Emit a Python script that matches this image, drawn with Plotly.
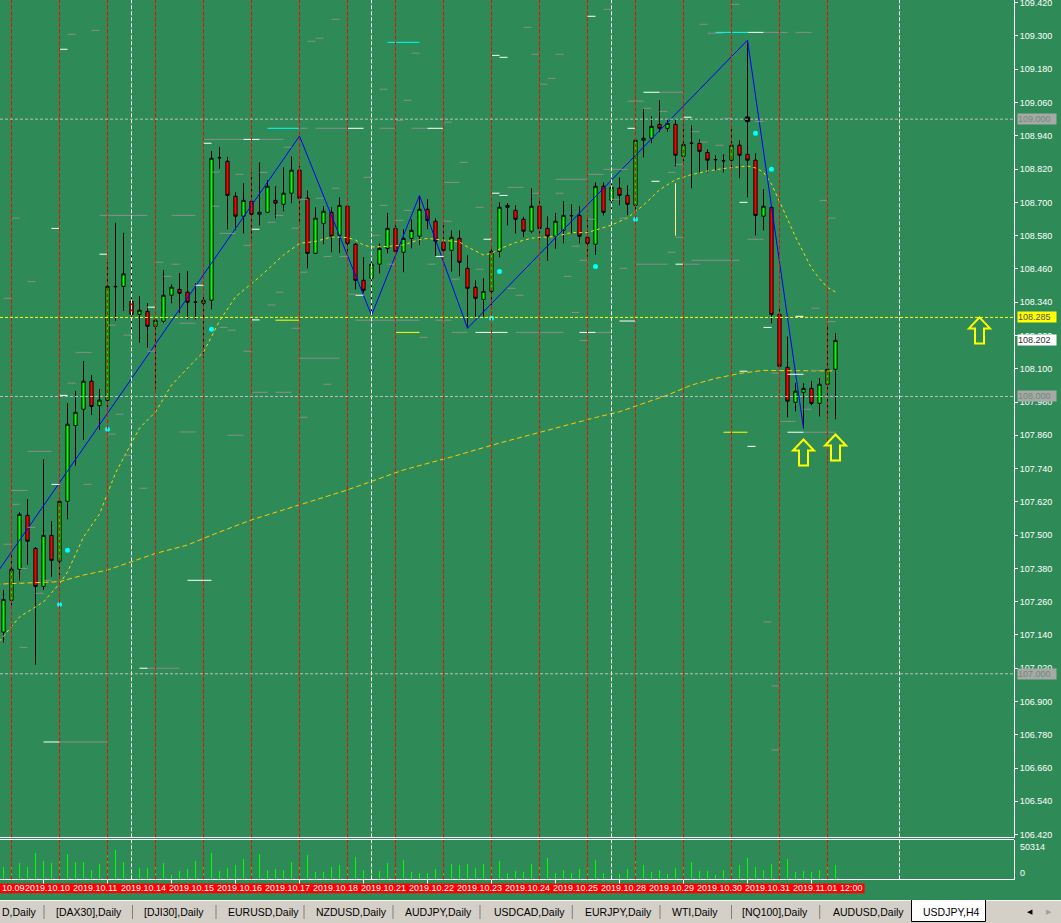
import plotly.graph_objects as go

W, H = 1061, 923
BG = "#2E8B57"
FONT = "Liberation Sans, Arial, sans-serif"

# ---------------- data: USDJPY H4 candles (bar index 0..104) ----------------
opens = [
    107.150, 107.265, 107.377, 107.571, 107.452, 107.315, 107.499, 107.406, 107.622, 107.895,
    107.954, 108.055, 107.967, 107.986, 108.397, 108.397, 108.343, 108.296, 108.307, 108.253,
    108.271, 108.365, 108.386, 108.376, 108.340, 108.336, 108.347, 108.861, 108.848, 108.722,
    108.650, 108.704, 108.657, 108.664, 108.707, 108.693, 108.733, 108.816, 108.715, 108.516,
    108.624, 108.664, 108.581, 108.686, 108.549, 108.419, 108.426, 108.477, 108.534, 108.606,
    108.520, 108.570, 108.578, 108.675, 108.632, 108.556, 108.527, 108.570, 108.462, 108.394,
    108.350, 108.379, 108.523, 108.682, 108.671, 108.639, 108.596, 108.686, 108.606, 108.578,
    108.599, 108.652, 108.653, 108.574, 108.549, 108.758, 108.707, 108.751, 108.725, 108.689,
    108.924, 108.931, 108.981, 108.967, 108.981, 108.866, 108.913, 108.913, 108.880, 108.854,
    108.850, 108.852, 108.906, 108.873, 108.852, 108.650, 108.682, 108.296, 108.105, 107.979,
    108.015, 108.029, 107.975, 108.044, 108.098]
highs = [
    107.302, 107.428, 107.582, 107.630, 107.457, 107.773, 107.550, 107.637, 107.976, 108.020,
    108.128, 108.077, 108.027, 108.484, 108.626, 108.590, 108.521, 108.362, 108.337, 108.283,
    108.456, 108.404, 108.445, 108.452, 108.409, 108.362, 108.885, 108.900, 108.864, 108.737,
    108.769, 108.808, 108.844, 108.780, 108.758, 108.826, 108.866, 108.831, 108.743, 108.682,
    108.686, 108.682, 108.718, 108.690, 108.553, 108.502, 108.503, 108.552, 108.661, 108.626,
    108.603, 108.639, 108.725, 108.711, 108.643, 108.624, 108.599, 108.599, 108.509, 108.420,
    108.426, 108.535, 108.700, 108.697, 108.689, 108.648, 108.751, 108.708, 108.650, 108.661,
    108.704, 108.693, 108.686, 108.643, 108.772, 108.772, 108.785, 108.790, 108.761, 108.931,
    109.037, 109.010, 109.068, 109.000, 109.001, 108.981, 108.978, 108.927, 108.891, 108.870,
    108.873, 108.967, 108.924, 109.285, 108.877, 108.747, 108.682, 108.318, 108.216, 108.048,
    108.048, 108.055, 108.066, 108.257, 108.228]
lows = [
    107.112, 107.248, 107.336, 107.393, 107.033, 107.303, 107.350, 107.356, 107.557, 107.750,
    107.843, 107.934, 107.879, 107.962, 108.273, 108.309, 108.234, 108.194, 108.176, 108.028,
    108.264, 108.336, 108.300, 108.278, 108.278, 108.139, 108.314, 108.821, 108.603, 108.600,
    108.588, 108.570, 108.617, 108.661, 108.643, 108.668, 108.697, 108.626, 108.462, 108.513,
    108.549, 108.520, 108.517, 108.522, 108.386, 108.374, 108.293, 108.444, 108.516, 108.517,
    108.448, 108.534, 108.546, 108.603, 108.504, 108.517, 108.450, 108.434, 108.246, 108.282,
    108.288, 108.330, 108.502, 108.617, 108.588, 108.574, 108.588, 108.552, 108.490, 108.533,
    108.552, 108.588, 108.552, 108.504, 108.511, 108.653, 108.675, 108.689, 108.653, 108.675,
    108.862, 108.913, 108.953, 108.955, 108.830, 108.848, 108.751, 108.808, 108.808, 108.816,
    108.808, 108.823, 108.787, 108.718, 108.581, 108.599, 108.264, 108.106, 107.925, 107.946,
    107.885, 107.968, 107.928, 107.921, 107.918]
closes = [
    107.268, 107.377, 107.575, 107.478, 107.315, 107.499, 107.409, 107.622, 107.900, 107.943,
    108.055, 107.964, 107.987, 108.397, 108.396, 108.442, 108.296, 108.311, 108.253, 108.275,
    108.365, 108.394, 108.372, 108.340, 108.340, 108.347, 108.859, 108.861, 108.725, 108.650,
    108.707, 108.657, 108.664, 108.758, 108.697, 108.733, 108.816, 108.715, 108.516, 108.643,
    108.668, 108.578, 108.689, 108.552, 108.419, 108.383, 108.477, 108.534, 108.606, 108.523,
    108.570, 108.599, 108.675, 108.635, 108.560, 108.527, 108.574, 108.484, 108.390, 108.354,
    108.379, 108.523, 108.682, 108.689, 108.639, 108.596, 108.686, 108.606, 108.578, 108.632,
    108.653, 108.652, 108.578, 108.552, 108.758, 108.664, 108.754, 108.725, 108.693, 108.924,
    108.931, 108.974, 108.967, 108.985, 108.870, 108.909, 108.913, 108.884, 108.852, 108.854,
    108.850, 108.906, 108.870, 108.852, 108.653, 108.686, 108.296, 108.109, 107.983, 108.019,
    108.029, 107.975, 108.044, 108.098, 108.202]
volumes = [
    16180, 17700, 20100, 16180, 32870, 22630, 20100, 22760, 31600, 21360,
    21360, 12390, 18840, 30340, 36790, 21360, 11120, 14920, 14920, 15170,
    20100, 5940, 11120, 13650, 22630, 15170, 32870, 11120, 14920, 17570,
    25160, 17700, 31600, 12390, 13650, 12390, 21360, 16430, 30340, 9860,
    9860, 16180, 17570, 16430, 27810, 12390, 14920, 11120, 20100, 13910,
    23890, 9860, 8600, 8600, 13650, 12640, 18840, 17570, 18840, 14920,
    18840, 17700, 22630, 8600, 11120, 9860, 18840, 15170, 26550, 8600,
    12390, 8600, 13650, 13910, 23890, 8600, 8600, 7210, 13650, 25280,
    17570, 9860, 12390, 7210, 14920, 15170, 21360, 11120, 11120, 5940,
    12390, 17700, 17570, 26550, 16180, 12390, 18840, 27810, 25160, 9860,
    11120, 9860, 12390, 20230, 17570]
VOL_MAX = 50314

# moving averages (bar index, value)
fast_ma_idx = [-1, 0, 2, 5, 7, 8, 10, 12, 14, 16, 17, 19, 21, 24, 25, 27, 29, 32, 35, 37, 39, 41, 43, 44,
               45, 46, 48, 50, 52, 53, 55, 57, 58, 59, 60, 61, 62, 64, 66, 69, 71, 73, 74, 76, 78, 80,
               82, 84, 86, 88, 90, 92, 93, 94, 95, 96, 97, 98, 99, 100, 101, 102, 103, 104]
fast_ma_val = [107.100, 107.136, 107.205, 107.259, 107.325, 107.367, 107.493, 107.576, 107.724, 107.832,
               107.886, 107.944, 108.041, 108.132, 108.160, 108.272, 108.359, 108.431, 108.510, 108.552,
               108.559, 108.575, 108.573, 108.564, 108.546, 108.539, 108.541, 108.546, 108.566, 108.570,
               108.564, 108.557, 108.539, 108.525, 108.510, 108.516, 108.532, 108.555, 108.571, 108.577,
               108.591, 108.591, 108.600, 108.618, 108.644, 108.690, 108.745, 108.782, 108.800, 108.813,
               108.822, 108.829, 108.831, 108.824, 108.809, 108.766, 108.705, 108.640, 108.575, 108.517,
               108.463, 108.424, 108.393, 108.377]
slow_ma_idx = [-1, 0, 7, 10, 13, 16, 19, 23, 26, 31, 37, 43, 50, 56, 62, 68, 74, 77, 80, 83, 86, 89,
               92, 95, 98, 101, 104]
slow_ma_val = [107.322, 107.324, 107.332, 107.356, 107.374, 107.404, 107.434, 107.464, 107.500, 107.555,
               107.609, 107.663, 107.735, 107.782, 107.832, 107.879, 107.924, 107.945, 107.975, 108.005,
               108.041, 108.065, 108.083, 108.094, 108.093, 108.092, 108.092]

# zigzag vertices
zz_idx = [-1, 37, 46, 52, 58, 93, 100]
zz_val = [107.356, 108.939, 108.293, 108.725, 108.246, 109.285, 107.885]

# signal dots
cyan_idx = [7, 8, 13, 26, 61, 62, 74, 79, 94, 96]
cyan_val = [107.250, 107.445, 107.882, 108.242, 108.282, 108.451, 108.469, 108.639, 108.949, 108.819]
black_dot = (93, 109.000)

# up arrows (tip position)
arrow_idx = [100, 104, 122]
arrow_val = [107.845, 107.863, 108.285]

# horizontal levels
gray_levels = [109.000, 108.000, 107.000]
yellow_level = 108.285

# short level segments (start bar, end bar, price)
gray_segments = [
    (8, 9, 109.306), (11, 12, 109.320), (41, 42, 109.360), (38, 39, 109.281), (39, 40, 109.292),
    (51, 52, 109.238), (47, 48, 109.108), (50, 51, 109.068), (49, 50, 108.996), (55, 56, 108.989),
    (37, 38, 108.967), (39, 43, 108.967), (47, 49, 108.967), (51, 53, 108.967), (75, 76, 109.396),
    (65, 66, 109.331), (66, 67, 109.234), (69, 70, 109.234), (68, 69, 109.147), (67, 68, 109.126),
    (87, 88, 109.342), (88, 90, 109.310), (91, 92, 109.414), (95, 98, 109.313), (99, 101, 109.313),
    (82, 85, 109.097), (78, 80, 109.065), (80, 81, 109.039), (82, 83, 109.028), (90, 91, 109.003),
    (94, 95, 108.992), (1, 2, 108.643), (3, 4, 108.414), (0, 1, 108.354), (12, 18, 108.653),
    (9, 11, 108.159), (8, 9, 108.048), (14, 15, 107.936), (22, 24, 107.872), (13, 14, 107.864),
    (18, 19, 108.163), (15, 16, 108.221), (13, 14, 108.257), (19, 20, 108.484), (20, 21, 108.433),
    (21, 22, 108.477), (21, 24, 108.653), (22, 24, 108.264), (25, 30, 108.927), (32, 35, 108.927),
    (26, 27, 108.809), (26, 27, 108.686), (29, 30, 108.801), (27, 29, 108.588), (30, 31, 108.545),
    (32, 33, 108.808), (33, 34, 108.628), (34, 35, 108.653), (35, 36, 108.899), (36, 37, 108.607),
    (37, 38, 108.711), (37, 38, 108.448), (39, 40, 108.715), (40, 41, 108.505), (41, 42, 108.751),
    (36, 37, 108.246), (30, 31, 108.163), (37, 42, 108.138), (31, 33, 108.015), (34, 36, 108.015),
    (40, 41, 108.044), (37, 38, 107.925), (33, 34, 108.330), (34, 35, 108.376), (28, 29, 108.239),
    (27, 28, 108.249), (45, 46, 108.790), (47, 48, 108.689), (50, 51, 108.671), (49, 50, 108.635),
    (55, 57, 108.772), (57, 58, 108.844), (55, 56, 108.632), (46, 47, 108.581), (42, 43, 108.505),
    (48, 49, 108.477), (53, 54, 108.477), (56, 57, 108.423), (43, 44, 108.369), (44, 52, 108.275),
    (54, 56, 108.275), (56, 58, 108.231), (52, 53, 108.213), (59, 60, 108.682), (63, 65, 108.754),
    (69, 73, 108.783), (66, 67, 108.733), (69, 70, 108.733), (73, 75, 108.801), (75, 78, 108.819),
    (73, 74, 108.639), (71, 72, 108.542), (72, 73, 108.491), (70, 71, 108.433), (63, 64, 108.390),
    (64, 65, 108.365), (71, 72, 108.303), (59, 60, 108.459), (64, 70, 108.231), (72, 73, 108.202),
    (74, 76, 108.231), (76, 77, 108.711), (83, 84, 108.808), (86, 87, 108.955), (87, 88, 108.917),
    (89, 90, 108.906), (84, 85, 108.837), (77, 78, 108.643), (77, 78, 108.462), (79, 83, 108.477),
    (85, 87, 108.477), (86, 92, 108.491), (83, 84, 108.520), (84, 85, 108.574), (93, 95, 108.567),
    (102, 103, 108.707), (103, 104, 108.643), (101, 102, 108.318), (103, 104, 108.270), (96, 97, 108.084),
    (101, 102, 108.094), (97, 99, 107.910), (100, 104, 107.871), (100, 101, 107.954), (18, 22, 107.020),
    (3, 6, 107.802), (10, 11, 107.683), (1, 3, 107.661), (1, 2, 107.611), (17, 18, 107.669),
    (0, 1, 107.467), (3, 4, 107.528), (2, 3, 107.380), (4, 5, 107.290), (5, 6, 107.337),
    (2, 3, 107.095), (28, 30, 107.860), (15, 16, 107.788), (7, 13, 106.754), (95, 96, 107.187),
    (96, 97, 106.956), (96, 97, 106.725)]
white_segments = [
    (7, 8, 109.252), (43, 45, 108.967), (53, 55, 108.967), (61, 62, 109.230), (73, 74, 109.371),
    (62, 63, 109.223), (93, 95, 109.313), (80, 82, 109.097), (85, 86, 109.007), (78, 79, 108.967),
    (6, 7, 108.606), (12, 13, 108.513), (7, 8, 108.004), (18, 19, 108.322), (24, 25, 108.401),
    (25, 26, 108.913), (30, 32, 108.927), (31, 32, 108.603), (31, 32, 108.276), (81, 82, 108.776),
    (84, 85, 108.477), (77, 79, 108.272), (92, 93, 108.700), (99, 100, 108.289), (95, 96, 108.249),
    (92, 93, 108.091), (98, 100, 108.080), (98, 100, 107.871), (93, 94, 107.820), (6, 7, 107.683),
    (23, 26, 107.337), (17, 18, 107.020), (5, 7, 106.754), (54, 55, 108.505), (44, 45, 108.365),
    (61, 62, 108.733), (62, 63, 108.725), (60, 61, 108.567), (59, 63, 108.231), (72, 74, 108.231)]
cyan_segments = [(48, 52, 109.277), (33, 37, 108.967), (89, 93, 109.313)]
yellow_segments = [(34, 37, 108.275), (90, 93, 107.871), (49, 52, 108.231)]
pale_vline = (84, 108.580, 108.769)

# price scale
price_ticks = [round(106.420 + 0.12 * k, 3) for k in range(26)]
boxed_prices = [(109.000, "gray"), (108.285, "yellow"), (closes[-1], "bid"), (108.000, "gray"), (107.000, "gray")]

# separators
day_sep_bars = [1, 7, 13, 19, 25, 31, 37, 43, 49, 55, 61, 67, 73, 79, 85, 91, 97, 103]
week_sep_bars = [16, 46, 76, 112]
vol_tick_bars = [5, 13, 21, 29, 37, 45, 53, 61, 69, 77, 85, 93, 101]

date_labels = ["10.09", "2019.10.10", "2019.10.11", "2019.10.14", "2019.10.15", "2019.10.16",
               "2019.10.17", "2019.10.18", "2019.10.21", "2019.10.22", "2019.10.23", "2019.10.24",
               "2019.10.25", "2019.10.28", "2019.10.29", "2019.10.30", "2019.10.31", "2019.11.01 12:00"]
date_label_bars = [-0.44, 2.4, 8.4, 14.4, 20.4, 26.4, 32.4, 38.4, 44.4, 50.4, 56.4, 62.4, 68.4, 74.4,
                   80.4, 86.4, 92.4, 98.4]

tab_names = ["D,Daily", "[DAX30],Daily", "[DJI30],Daily", "EURUSD,Daily", "NZDUSD,Daily", "AUDJPY,Daily",
             "USDCAD,Daily", "EURJPY,Daily", "WTI,Daily", "[NQ100],Daily", "AUDUSD,Daily", "USDJPY,H4"]

# ---------------- layout geometry (pixels) ----------------
X0_PX, BAR_PX = 3.5, 8.0
PLOT_R_PX = 1014
MAIN_BOT_PX = 837
VOL_TOP_PX, VOL_BOT_PX = 839.5, 879.3
PRICE_TOP = 109.4297
PX_PER_PRICE = 277.3
PRICE_BOT = PRICE_TOP - MAIN_BOT_PX / PX_PER_PRICE
XR = [-X0_PX / BAR_PX, (PLOT_R_PX - X0_PX) / BAR_PX]


def bar_paper(i):
    return max(0.0, (X0_PX + BAR_PX * i) / W)


def pxx(px):
    return px / W


def pxy(py):
    return 1 - py / H


fig = go.Figure()

fig.add_trace(go.Candlestick(
    x=list(range(len(opens))), open=opens, high=highs, low=lows, close=closes,
    increasing=dict(line=dict(color="#000000", width=1), fillcolor="#00FF00"),
    decreasing=dict(line=dict(color="#000000", width=1), fillcolor="#FF0000"),
    whiskerwidth=0, hoverinfo="skip", xaxis="x", yaxis="y"))

fig.add_trace(go.Bar(x=list(range(len(volumes))), y=volumes, width=1 / BAR_PX,
                     marker=dict(color="#00FF00", line=dict(width=0)),
                     xaxis="x2", yaxis="y2", hoverinfo="skip"))

fig.add_trace(go.Scatter(x=slow_ma_idx, y=slow_ma_val, mode="lines",
                         line=dict(color="#FFC800", width=1, dash="5px,3px"), hoverinfo="skip"))
fig.add_trace(go.Scatter(x=fast_ma_idx, y=fast_ma_val, mode="lines",
                         line=dict(color="#FFD700", width=1, dash="3px,3px"), hoverinfo="skip"))
fig.add_trace(go.Scatter(x=zz_idx, y=zz_val, mode="lines",
                         line=dict(color="#0000FF", width=1), hoverinfo="skip"))


def seg_xy(segs):
    xs, ys = [], []
    for a, b, p in segs:
        xs += [a, b, None]
        ys += [p, p, None]
    return xs, ys


for segs, col in [(gray_segments, "#8C8C8C"), (white_segments, "#FFFFFF"),
                  (cyan_segments, "#00FFFF"), (yellow_segments, "#FFFF00")]:
    sx, sy = seg_xy(segs)
    fig.add_trace(go.Scatter(x=sx, y=sy, mode="lines", line=dict(color=col, width=1), hoverinfo="skip"))

fig.add_trace(go.Scatter(x=[pale_vline[0], pale_vline[0]], y=[pale_vline[1], pale_vline[2]], mode="lines",
                         line=dict(color="#FFFF99", width=1), hoverinfo="skip"))

fig.add_trace(go.Scatter(x=cyan_idx, y=cyan_val, mode="markers",
                         marker=dict(color="#00FFFF", size=5, line=dict(width=0)), hoverinfo="skip"))
fig.add_trace(go.Scatter(x=[black_dot[0]], y=[black_dot[1]], mode="markers",
                         marker=dict(color="#000000", size=6, line=dict(width=0)), hoverinfo="skip"))

shapes = []
for b in day_sep_bars:
    shapes.append(dict(type="line", xref="x", yref="paper", x0=b, x1=b, y0=pxy(VOL_BOT_PX), y1=1,
                       line=dict(color="#FF0000", width=1, dash="4px,2px")))
for b in week_sep_bars:
    shapes.append(dict(type="line", xref="x", yref="paper", x0=b, x1=b, y0=pxy(VOL_BOT_PX), y1=1,
                       line=dict(color="#FFFFFF", width=1, dash="4px,2px")))
for lv in gray_levels:
    shapes.append(dict(type="line", xref="x domain", yref="y", x0=0, x1=1, y0=lv, y1=lv,
                       line=dict(color="#BEBEBE", width=1, dash="3px,2px")))
shapes.append(dict(type="line", xref="x domain", yref="y", x0=0, x1=1, y0=yellow_level, y1=yellow_level,
                   line=dict(color="#FFFF00", width=1, dash="3px,2px")))
shapes.append(dict(type="line", xref="x2 domain", yref="y2 domain", x0=0, x1=1, y0=1, y1=1,
                   line=dict(color="#FFFFFF", width=1)))

DX = 1 / BAR_PX
DY = 1 / PX_PER_PRICE
arrow_pts = [(0, 0), (10.5, 11), (4.5, 11), (4.5, 26), (-4.5, 26), (-4.5, 11), (-10.5, 11)]
for ai, ap in zip(arrow_idx, arrow_val):
    pts = [(ai + dx * DX, ap - dy * DY) for dx, dy in arrow_pts]
    path = "M " + " L ".join(f"{x:.4f},{y:.5f}" for x, y in pts) + " Z"
    shapes.append(dict(type="path", xref="x", yref="y", path=path,
                       line=dict(color="#FFFF00", width=2), fillcolor="rgba(0,0,0,0)"))

shapes.append(dict(type="rect", xref="paper", yref="paper", x0=0, x1=pxx(864.6),
                   y0=pxy(893.2), y1=pxy(883.4), fillcolor="#FF0000", line=dict(width=0), layer="above"))
shapes.append(dict(type="rect", xref="paper", yref="paper", x0=0, x1=1, y0=0, y1=pxy(900),
                   fillcolor="#D4D0C8", line=dict(width=0)))
shapes.append(dict(type="line", xref="paper", yref="paper", x0=0, x1=1, y0=pxy(900.5), y1=pxy(900.5),
                   line=dict(color="#F4F4F4", width=1)))
for sx in [44, 132.5, 216, 304, 393, 480, 572.3, 660, 731.5, 819.7]:
    shapes.append(dict(type="line", xref="paper", yref="paper", x0=pxx(sx), x1=pxx(sx),
                       y0=pxy(919), y1=pxy(905), line=dict(color="#808080", width=1)))
shapes.append(dict(type="rect", xref="paper", yref="paper", x0=pxx(911.3), x1=pxx(985.6),
                   y0=pxy(921), y1=pxy(900), fillcolor="#FFFFFF", line=dict(width=0)))
shapes.append(dict(type="path", xref="paper", yref="paper",
                   path=f"M {pxx(911.5)},{pxy(900)} L {pxx(911.5)},{pxy(921.5)} L {pxx(985.5)},{pxy(921.5)} L {pxx(985.5)},{pxy(900)}",
                   line=dict(color="#000000", width=1)))

annotations = []
box_styles = {"gray": ("#A8A8A8", "#6B8E73"), "yellow": ("#FFFF00", "#505050"), "bid": ("#FFFFFF", "#303030")}
for p, st in boxed_prices:
    bg, fc = box_styles[st]
    annotations.append(dict(xref="paper", yref="y", x=pxx(1017), y=p, xanchor="left", yanchor="middle",
                            text=f"{p:.3f}", showarrow=False, bgcolor=bg, width=38, height=10,
                            borderpad=0, align="left", font=dict(family=FONT, size=9, color=fc)))
annotations.append(dict(xref="paper", yref="paper", x=pxx(1018), y=pxy(846.6), xanchor="left",
                        yanchor="middle", text=str(VOL_MAX), showarrow=False,
                        font=dict(family=FONT, size=9, color="#FFFFFF")))
annotations.append(dict(xref="paper", yref="paper", x=pxx(1018), y=pxy(872.9), xanchor="left",
                        yanchor="middle", text="0", showarrow=False,
                        font=dict(family=FONT, size=9, color="#FFFFFF")))
for lab, b in zip(date_labels, date_label_bars):
    annotations.append(dict(xref="paper", yref="paper", x=bar_paper(b), y=pxy(888.3), xanchor="left",
                            yanchor="middle", text=lab, showarrow=False,
                            font=dict(family=FONT, size=9, color="#FFFFFF")))
tab_x_px = [0, 54, 142, 225.5, 313.7, 403, 491.8, 583.4, 670, 739.6, 830.8, 921.4]
for name, tx in zip(tab_names, tab_x_px):
    annotations.append(dict(xref="paper", yref="paper", x=pxx(tx), y=pxy(912), xanchor="left",
                            yanchor="middle", text=name, showarrow=False,
                            font=dict(family=FONT, size=10.5, color="#000000")))
annotations.append(dict(xref="paper", yref="paper", x=pxx(1030), y=pxy(911.5), xanchor="center",
                        yanchor="middle", text="◀", showarrow=False,
                        font=dict(family="DejaVu Sans", size=7, color="#000000")))
annotations.append(dict(xref="paper", yref="paper", x=pxx(1049), y=pxy(911.5), xanchor="center",
                        yanchor="middle", text="▶", showarrow=False,
                        font=dict(family="DejaVu Sans", size=7, color="#A0A0A0")))

dom_x = [0, PLOT_R_PX / W]
fig.update_layout(
    width=W, height=H, template="none",
    margin=dict(l=0, r=0, t=0, b=0, pad=0),
    paper_bgcolor=BG, plot_bgcolor=BG,
    showlegend=False, hovermode=False, dragmode=False, boxgap=0.42, bargap=0,
    font=dict(family=FONT, size=9, color="#FFFFFF"),
    xaxis=dict(domain=dom_x, range=XR, anchor="y", showgrid=False, zeroline=False,
               showticklabels=False, ticks="", showline=True, linecolor="#FFFFFF", linewidth=1,
               rangeslider=dict(visible=False), automargin=False, fixedrange=True),
    yaxis=dict(domain=[pxy(MAIN_BOT_PX), 1], range=[PRICE_BOT, PRICE_TOP], anchor="x", side="right",
               showgrid=False, zeroline=False, showline=True, linecolor="#FFFFFF", linewidth=1,
               ticks="outside", ticklen=3, tickcolor="#FFFFFF", tickwidth=1,
               tickvals=price_ticks, ticktext=[f"{t:.3f}" for t in price_ticks],
               ticklabeloverflow="allow",
               tickfont=dict(family=FONT, size=9, color="#FFFFFF"), automargin=False, fixedrange=True),
    xaxis2=dict(domain=dom_x, range=XR, anchor="y2", showgrid=False, zeroline=False,
                showticklabels=False, ticks="outside", ticklen=4, tickcolor="#FFFFFF", tickwidth=1,
                tickvals=vol_tick_bars, showline=True, linecolor="#FFFFFF", linewidth=1,
                automargin=False, fixedrange=True),
    yaxis2=dict(domain=[pxy(VOL_BOT_PX), pxy(VOL_TOP_PX)], range=[0, VOL_MAX], anchor="x2", side="right",
                showgrid=False, zeroline=False, showline=True, linecolor="#FFFFFF", linewidth=1,
                showticklabels=False, ticks="", automargin=False, fixedrange=True),
    shapes=shapes, annotations=annotations,
)

fig.write_html("out.html", include_plotlyjs=True, config={"displayModeBar": False, "staticPlot": True},
               post_script="document.body.style.margin='0';document.body.style.overflow='hidden';")
